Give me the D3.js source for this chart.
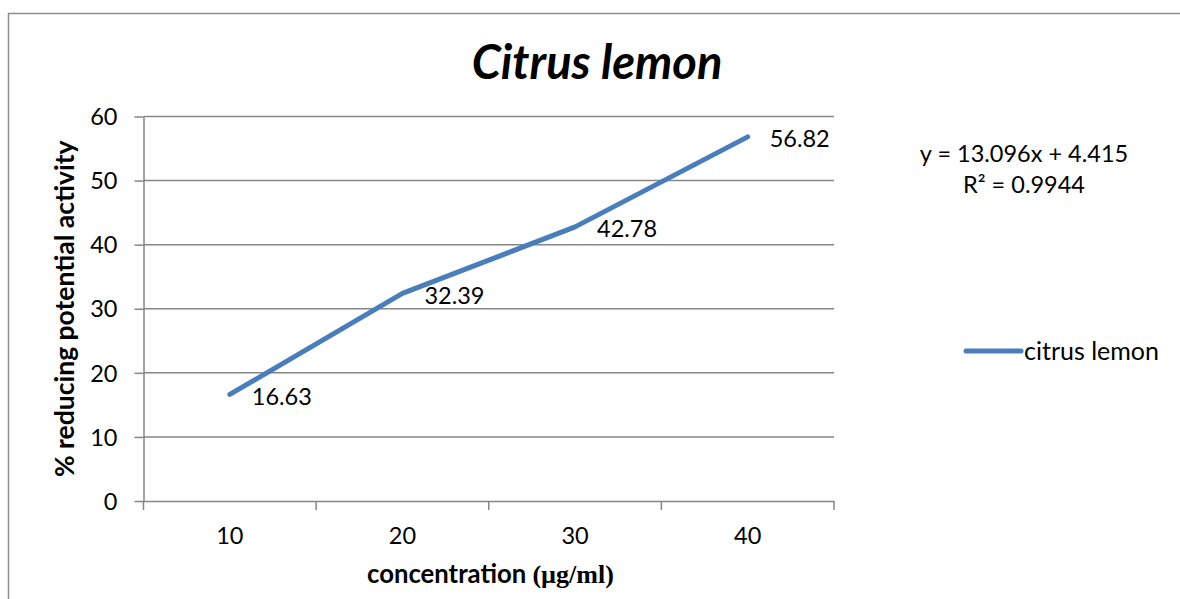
<!DOCTYPE html>
<html>
<head>
<meta charset="utf-8">
<script src="https://cdn.jsdelivr.net/npm/d3@7"></script>
<style>
  html, body { margin: 0; padding: 0; background: #fff; }
  svg { display: block; font-family: Lato, "Open Sans", sans-serif; }
</style>
</head>
<body>
<svg id="chart" width="1180" height="599"></svg>
<script>
// data
const concentrations = ['10', '20', '30', '40'];
const activity = [16.63, 32.39, 42.78, 56.82];
const yTicks = [0, 10, 20, 30, 40, 50, 60];
const seriesName = 'citrus lemon';
const trendEquation = 'y = 13.096x + 4.415';
const trendR2 = 'R² = 0.9944';

const W = 1180, H = 599;
const plot = { left: 143.5, right: 834, top: 116.5, bottom: 501 };
const gridColor = '#868686';
const lineColor = '#4a7ebb';

const svg = d3.select('#chart');

// outer chart border (runs off the right / bottom edge)
svg.append('rect')
    .attr('x', 8.5).attr('y', 13.5)
    .attr('width', W).attr('height', H)
    .attr('fill', 'none')
    .attr('stroke', '#8c8c8c')
    .attr('stroke-width', 1.5);

const x = d3.scaleBand()
    .domain(concentrations)
    .range([plot.left, plot.right])
    .paddingInner(0).paddingOuter(0);

const y = d3.scaleLinear()
    .domain([0, 60])
    .range([plot.bottom, plot.top]);

const cx = d => x(d) + x.bandwidth() / 2;

// horizontal gridlines
svg.append('g')
    .selectAll('line')
    .data(yTicks.filter(t => t > 0))
    .join('line')
    .attr('x1', plot.left).attr('x2', plot.right)
    .attr('y1', d => y(d)).attr('y2', d => y(d))
    .attr('stroke', gridColor)
    .attr('stroke-width', 1.5);

// y axis
const yAxis = svg.append('g')
    .attr('transform', `translate(${plot.left},0)`)
    .call(d3.axisLeft(y).tickValues(yTicks).tickSize(9).tickPadding(17).tickSizeOuter(0));
yAxis.select('.domain').attr('stroke', gridColor).attr('stroke-width', 1.5);
yAxis.selectAll('.tick line').attr('stroke', gridColor).attr('stroke-width', 1.5);
yAxis.selectAll('.tick text')
    .attr('font-family', 'Lato, sans-serif')
    .attr('font-size', 23.5)
    .attr('fill', '#000')
    .attr('dy', '0.35em');

// x axis: labels centred in each category, ticks on the category boundaries
const xAxis = svg.append('g')
    .attr('transform', `translate(0,${plot.bottom})`)
    .call(d3.axisBottom(x).tickSize(0).tickPadding(26).tickSizeOuter(0));
xAxis.select('.domain').attr('stroke', gridColor).attr('stroke-width', 1.5);
xAxis.selectAll('.tick text')
    .attr('font-family', 'Lato, sans-serif')
    .attr('font-size', 23.5)
    .attr('fill', '#000');

const edges = concentrations.map(c => x(c)).concat([x.range()[1]]);
svg.append('g')
    .selectAll('line')
    .data(edges)
    .join('line')
    .attr('x1', d => d).attr('x2', d => d)
    .attr('y1', plot.bottom).attr('y2', plot.bottom + 9)
    .attr('stroke', gridColor)
    .attr('stroke-width', 1.5);

// series line
const line = d3.line()
    .x((d, i) => cx(concentrations[i]))
    .y(d => y(d));

svg.append('path')
    .datum(activity)
    .attr('d', line)
    .attr('fill', 'none')
    .attr('stroke', lineColor)
    .attr('stroke-width', 5)
    .attr('stroke-linecap', 'round')
    .attr('stroke-linejoin', 'round');

// data labels (right of each point)
svg.append('g')
    .selectAll('text')
    .data(activity)
    .join('text')
    .attr('x', (d, i) => cx(concentrations[i]) + 22)
    .attr('y', d => y(d) + 2)
    .attr('dy', '0.35em')
    .attr('font-size', 23.5)
    .text(d => d.toFixed(2));

// title
svg.append('text')
    .attr('x', 597).attr('y', 79)
    .attr('text-anchor', 'middle')
    .attr('font-size', 47)
    .attr('font-weight', 'bold')
    .attr('font-style', 'italic')
    .text('Citrus lemon');

// axis titles
svg.append('text')
    .attr('transform', `translate(74,${(plot.top + plot.bottom) / 2}) rotate(-90)`)
    .attr('text-anchor', 'middle')
    .attr('font-size', 26.5)
    .attr('font-weight', 'bold')
    .text('% reducing potential activity');

const xt = svg.append('text')
    .attr('x', 367)
    .attr('y', 583)
    .attr('font-size', 25.7)
    .attr('font-weight', 'bold');
xt.append('tspan').text('concentration ');
xt.append('tspan')
    .style('font-family', '"Liberation Serif", "DejaVu Serif", serif')
    .style('font-size', '26px')
    .text('(µg/ml)');

// trendline equation
svg.append('text')
    .attr('x', 1024).attr('y', 162)
    .attr('text-anchor', 'middle')
    .attr('font-size', 23.5)
    .text(trendEquation);
svg.append('text')
    .attr('x', 1024).attr('y', 193)
    .attr('text-anchor', 'middle')
    .attr('font-size', 23.5)
    .text(trendR2);

// legend
const legend = svg.append('g').attr('transform', 'translate(966,351)');
legend.append('line')
    .attr('x1', 0).attr('x2', 55)
    .attr('stroke', lineColor)
    .attr('stroke-width', 5)
    .attr('stroke-linecap', 'round');
legend.append('text')
    .attr('x', 58)
    .attr('dy', '0.35em')
    .attr('font-size', 25)
    .text(seriesName);
</script>
</body>
</html>
